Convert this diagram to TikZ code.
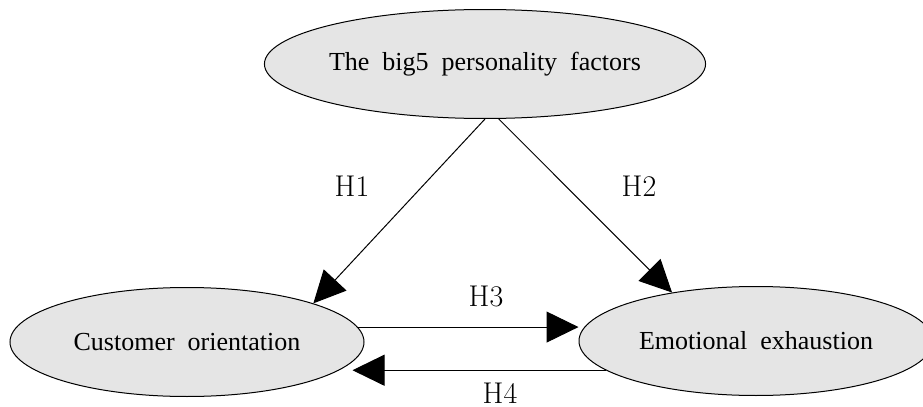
\documentclass[tikz,border=0pt]{standalone}
\usepackage{fontspec}
\usepackage{tikz}
\usetikzlibrary{shapes.geometric}
\usetikzlibrary{arrows.meta}
\newfontfamily\ellfont{Liberation Serif}

\begin{document}
\begin{tikzpicture}[x=0.5pt, y=-0.5pt, line width=0.5pt,
  factor/.style = {ellipse, draw, fill=black!10,
    minimum width=177pt, minimum height=54.5pt, inner sep=0pt,
    font=\ellfont\fontsize{13}{15}\selectfont},
  hyp/.style = {font=\fontsize{15}{18}\selectfont, inner sep=1pt},
  arr/.style = {draw, -{Triangle[length=16pt, width=15.5pt]}}]
  \clip (0,0) rectangle (923,407);
  \node[factor] (big5) at (485,64) {The~~big5~~personality~~factors};
  \node[factor] (cust) at (187,342) {Customer~~orientation};
  \node[factor] (emo) at (756,341) {Emotional~~exhaustion};
  \node[hyp] (h1) at (352,186) {H1};
  \node[hyp] (h2) at (639,186) {H2};
  \node[hyp] (h3) at (486,296) {H3};
  \node[hyp] (h4) at (500,393) {H4};
  \path [arr] (big5.south) -- (cust.17.6);
  \path [arr] (big5.-76) -- (emo.150);
  \path [arr] (cust.5) -- (cust.5 -| emo.west);
  \path [arr] (emo.-169.6) -- ([xshift=-6pt]emo.-169.6 -| cust.east);
\end{tikzpicture}
\end{document}
